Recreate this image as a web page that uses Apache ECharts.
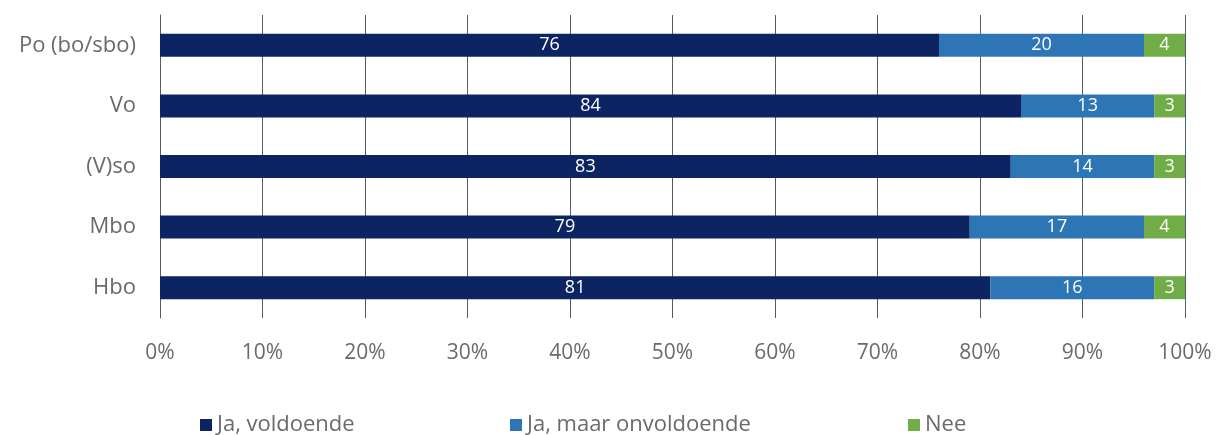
<!DOCTYPE html>
<html>
<head>
<meta charset="utf-8">
<script src="https://cdn.jsdelivr.net/npm/echarts@6/dist/echarts.min.js"></script>
<style>
  html, body { margin: 0; padding: 0; background: #fff; }
  #chart { width: 1224px; height: 435px; }
</style>
</head>
<body>
<div id="chart"></div>
<script>
const categories = ['Po (bo/sbo)', 'Vo', '(V)so', 'Mbo', 'Hbo'];
const seriesNames = ['Ja, voldoende', 'Ja, maar onvoldoende', 'Nee'];
const jaVoldoende = [76, 84, 83, 79, 81];
const jaOnvoldoende = [20, 13, 14, 17, 16];
const nee = [4, 3, 3, 4, 3];
const xTicks = [0, 10, 20, 30, 40, 50, 60, 70, 80, 90, 100];

const colors = ['#0c2461', '#2e75b6', '#70ad47'];
const font = '"Open Sans", "Noto Sans", sans-serif';
const textGray = '#6a6a6a';

const chart = echarts.init(document.getElementById('chart'));

function legendAt(name, left) {
    return {
        data: [name],
        left: left,
        top: 409,
        itemWidth: 12,
        itemHeight: 12,
        itemGap: 8,
        icon: 'rect',
        textStyle: { fontFamily: font, fontSize: 22, color: textGray }
    };
}

function barSeries(name, values, i) {
    return {
        name: name,
        type: 'bar',
        stack: 'total',
        barWidth: 23,
        data: values,
        itemStyle: { color: colors[i] },
        label: {
            show: true,
            position: 'inside',
            color: '#fff',
            fontFamily: font,
            fontSize: 18
        }
    };
}

chart.setOption({
    animation: false,
    legend: [
        legendAt(seriesNames[0], 195),
        legendAt(seriesNames[1], 505),
        legendAt(seriesNames[2], 903)
    ],
    grid: { left: 160, right: 39, top: 15, height: 303 },
    xAxis: {
        type: 'value',
        min: 0,
        max: 100,
        interval: 10,
        axisLine: { show: false },
        axisTick: { show: false },
        splitLine: { show: true, lineStyle: { color: '#4f5f70', width: 1 } },
        axisLabel: {
            margin: 25,
            fontFamily: font,
            fontSize: 21,
            color: textGray,
            formatter: (v) => xTicks.includes(v) ? v + '%' : ''
        }
    },
    yAxis: {
        type: 'category',
        inverse: true,
        data: categories,
        axisLine: { show: true, lineStyle: { color: '#4f5f70' } },
        axisTick: { show: false },
        axisLabel: { margin: 24, fontFamily: font, fontSize: 22, color: textGray }
    },
    series: [
        barSeries(seriesNames[0], jaVoldoende, 0),
        barSeries(seriesNames[1], jaOnvoldoende, 1),
        barSeries(seriesNames[2], nee, 2)
    ]
});
</script>
</body>
</html>
